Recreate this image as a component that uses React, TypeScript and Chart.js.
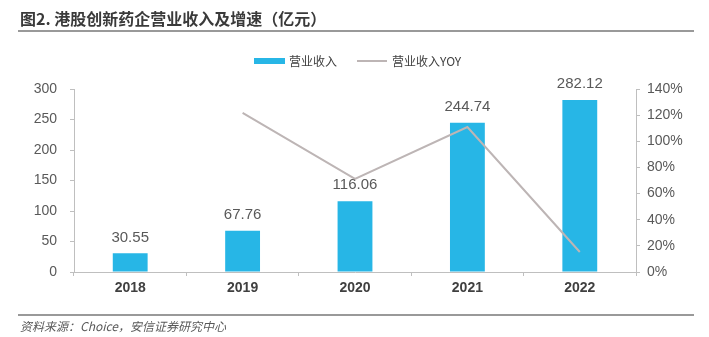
import React, { useEffect, useRef } from "react";
import { Chart, registerables } from "chart.js";
Chart.register(...registerables);

const categories = ["2018", "2019", "2020", "2021", "2022"];
const revenue = [30.55, 67.76, 116.06, 244.74, 282.12];
const yoy = [null, 121.8, 71.3, 110.9, 15.3];
const titleText = "图2. 港股创新药企营业收入及增速（亿元）";
const footerText = "资料来源：Choice，安信证券研究中心";
const legendBar = "营业收入";
const legendLine = "营业收入YOY";

const BAR = "#27B6E6";
const LINE = "#BDB5B5";
const AXIS = "#BFBFBF";
const TXT = "#595959";

export default function App() {
  const ref = useRef<HTMLCanvasElement>(null);
  useEffect(() => {
    const deco = {
      id: "deco",
      afterDraw(chart: any) {
        const c = chart.ctx;
        c.save();
        // title
        c.fillStyle = "#3A3A3A";
        c.font = "bold 16px 'Noto Sans CJK SC'";
        c.textBaseline = "alphabetic";
        c.textAlign = "left";
        c.fillText(titleText, 20, 25);
        c.fillStyle = "#999999";
        c.fillRect(18, 30, 676, 2);
        c.fillRect(18, 314, 676, 2);
        // footer
        c.fillStyle = TXT;
        c.font = "italic 12px 'Noto Sans CJK SC'";
        c.fillText(footerText, 20, 331);
        // legend
        c.fillStyle = BAR;
        c.fillRect(254, 58, 31, 6);
        c.fillStyle = "#404040";
        c.font = "12px 'Noto Sans CJK SC'";
        c.textBaseline = "middle";
        c.fillText(legendBar, 289, 61);
        c.strokeStyle = LINE;
        c.lineWidth = 2;
        c.beginPath();
        c.moveTo(357, 61);
        c.lineTo(387, 61);
        c.stroke();
        c.fillText(legendLine, 392, 61);
        // data labels
        const meta = chart.getDatasetMeta(0);
        c.fillStyle = TXT;
        c.font = "15px 'Liberation Sans'";
        c.textAlign = "center";
        meta.data.forEach((el: any, i: number) => {
          c.fillText(revenue[i].toFixed(2), el.x, el.y - 16);
        });
        c.restore();
      },
    };
    const chart = new Chart(ref.current!, {
      type: "bar",
      data: {
        labels: categories,
        datasets: [
          {
            type: "bar",
            label: legendBar,
            data: revenue,
            backgroundColor: BAR,
            yAxisID: "y",
            barPercentage: 0.62,
            categoryPercentage: 0.5,
            order: 2,
          },
          {
            type: "line",
            label: legendLine,
            data: yoy as any,
            borderColor: LINE,
            borderWidth: 2,
            pointRadius: 0,
            yAxisID: "y1",
            order: 1,
          } as any,
        ],
      },
      plugins: [deco],
      options: {
        animation: false,
        responsive: false,
        maintainAspectRatio: false,
        layout: { padding: { top: 89, left: 0, right: 0, bottom: 0 } },
        plugins: { legend: { display: false }, tooltip: { enabled: false }, title: { display: false } },
        scales: {
          x: {
            afterFit: (s: any) => { s.height = 65; },
            grid: { display: true, drawOnChartArea: false, drawTicks: true, tickLength: 4, color: AXIS, offset: true },
            border: { color: AXIS, width: 1 },
            ticks: { color: "#404040", font: { size: 14, weight: "bold", family: "'Liberation Sans'" }, padding: 4 },
          },
          y: {
            position: "left",
            min: 0,
            max: 300,
            afterFit: (s: any) => { s.width = 74; },
            grid: { display: true, drawOnChartArea: false, drawTicks: true, tickLength: 4, color: AXIS },
            border: { color: AXIS, width: 1 },
            ticks: { stepSize: 50, color: TXT, font: { size: 14, family: "'Liberation Sans'" }, padding: 13 },
          },
          y1: {
            position: "right",
            min: 0,
            max: 140,
            afterFit: (s: any) => { s.width = 73; },
            grid: { display: true, drawOnChartArea: false, drawTicks: true, tickLength: 4, color: AXIS },
            border: { color: AXIS, width: 1 },
            ticks: { stepSize: 20, color: TXT, font: { size: 14, family: "'Liberation Sans'" }, padding: 7, callback: (v: any) => v + "%" },
          },
        },
      },
    });
    return () => chart.destroy();
  }, []);
  return (
    <div style={{ position: "fixed", left: 0, top: 0, width: 709, height: 337, background: "#fff" }}>
      <canvas ref={ref} width={709} height={337} style={{ width: 709, height: 337 }} />
    </div>
  );
}
